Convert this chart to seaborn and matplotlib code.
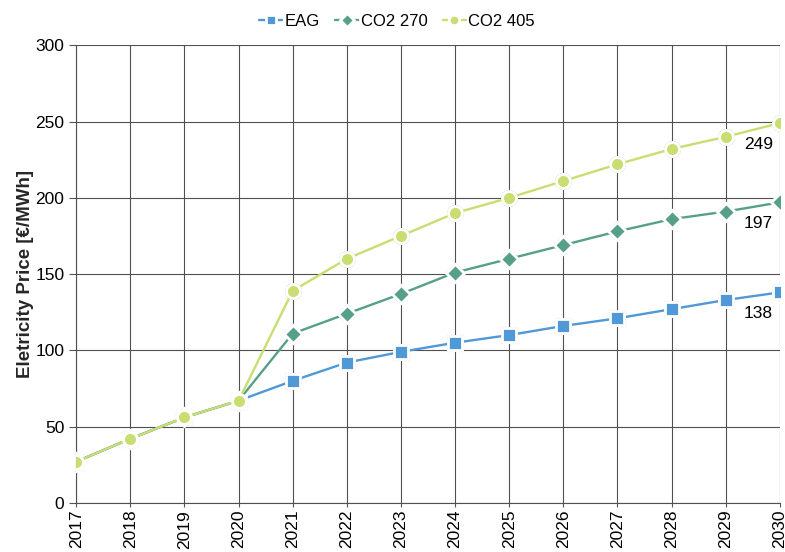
import numpy as np
import pandas as pd
import matplotlib.pyplot as plt
import seaborn as sns

years = list(range(2017, 2031))
eag = [27, 42, 56, 67, 80, 92, 99, 105, 110, 116, 121, 127, 133, 138]
co2_270 = [27, 42, 56, 67, 111, 124, 137, 151, 160, 169, 178, 186, 191, 197]
co2_405 = [27, 42, 56, 67, 139, 160, 175, 190, 200, 211, 222, 232, 240, 249]

series = [
    ("EAG", eag, "#5098D6", "s", 7),
    ("CO2 270", co2_270, "#56A08A", "D", 6),
    ("CO2 405", co2_405, "#C9DE70", "o", 7),
]

sns.set_style("white")
plt.rcParams['font.family'] = ['Liberation Sans', 'DejaVu Sans']
plt.rcParams['text.color'] = 'black'
plt.rcParams['xtick.color'] = 'black'
plt.rcParams['ytick.color'] = 'black'

fig = plt.figure(figsize=(7.85, 5.52), dpi=100)
ax = fig.add_axes([0.097, 0.089, 0.8965, 0.829])

for name, vals, color, mk, ms in series:
    df = pd.DataFrame({"year": years, "price": vals})
    # faint grey ring round the white marker edge
    ax.plot(df["year"], df["price"], linestyle="none", marker=mk, markersize=ms + 4.5,
            markerfacecolor="white", markeredgecolor="#cfcfcf", markeredgewidth=0.8, zorder=2)
    sns.lineplot(data=df, x="year", y="price", ax=ax, color=color, linewidth=1.7,
                 marker=mk, markersize=ms + 3, markerfacecolor=color,
                 markeredgecolor="white", markeredgewidth=2, label=name, zorder=4)

ax.set_xlim(2017, 2030)
ax.set_ylim(0, 300)
ax.set_xticks(years)
ax.set_xticklabels([str(y) for y in years], rotation=90, fontsize=12.5)
ax.set_yticks(range(0, 301, 50))
ax.tick_params(axis="y", labelsize=12.5, length=5, color="#555555", direction="out", left=True)
ax.tick_params(axis="x", length=3, color="#555555", direction="out", bottom=True, pad=2)
ax.grid(True, color="#505050", linewidth=0.8)
ax.set_axisbelow(True)
for side in ["top", "right"]:
    ax.spines[side].set_visible(False)
for side in ["left", "bottom"]:
    ax.spines[side].set_color("#505050")
    ax.spines[side].set_linewidth(0.8)

ax.set_xlabel("")
ax.set_ylabel("Eletricity Price [€/MWh]", fontsize=13.5, fontweight="bold", labelpad=1)

for name, vals, color, mk, ms in series:
    ax.text(2029.6, vals[-1] - 14, str(vals[-1]), fontsize=12.5, ha="center", va="center")

ax.legend(loc="lower center", bbox_to_anchor=(0.456, 1.0), ncol=3, frameon=False,
          fontsize=12, handlelength=1.4, columnspacing=0.9, handletextpad=0.15,
          borderaxespad=0.6, markerscale=0.75)

fig.savefig("out.png", dpi=100)
